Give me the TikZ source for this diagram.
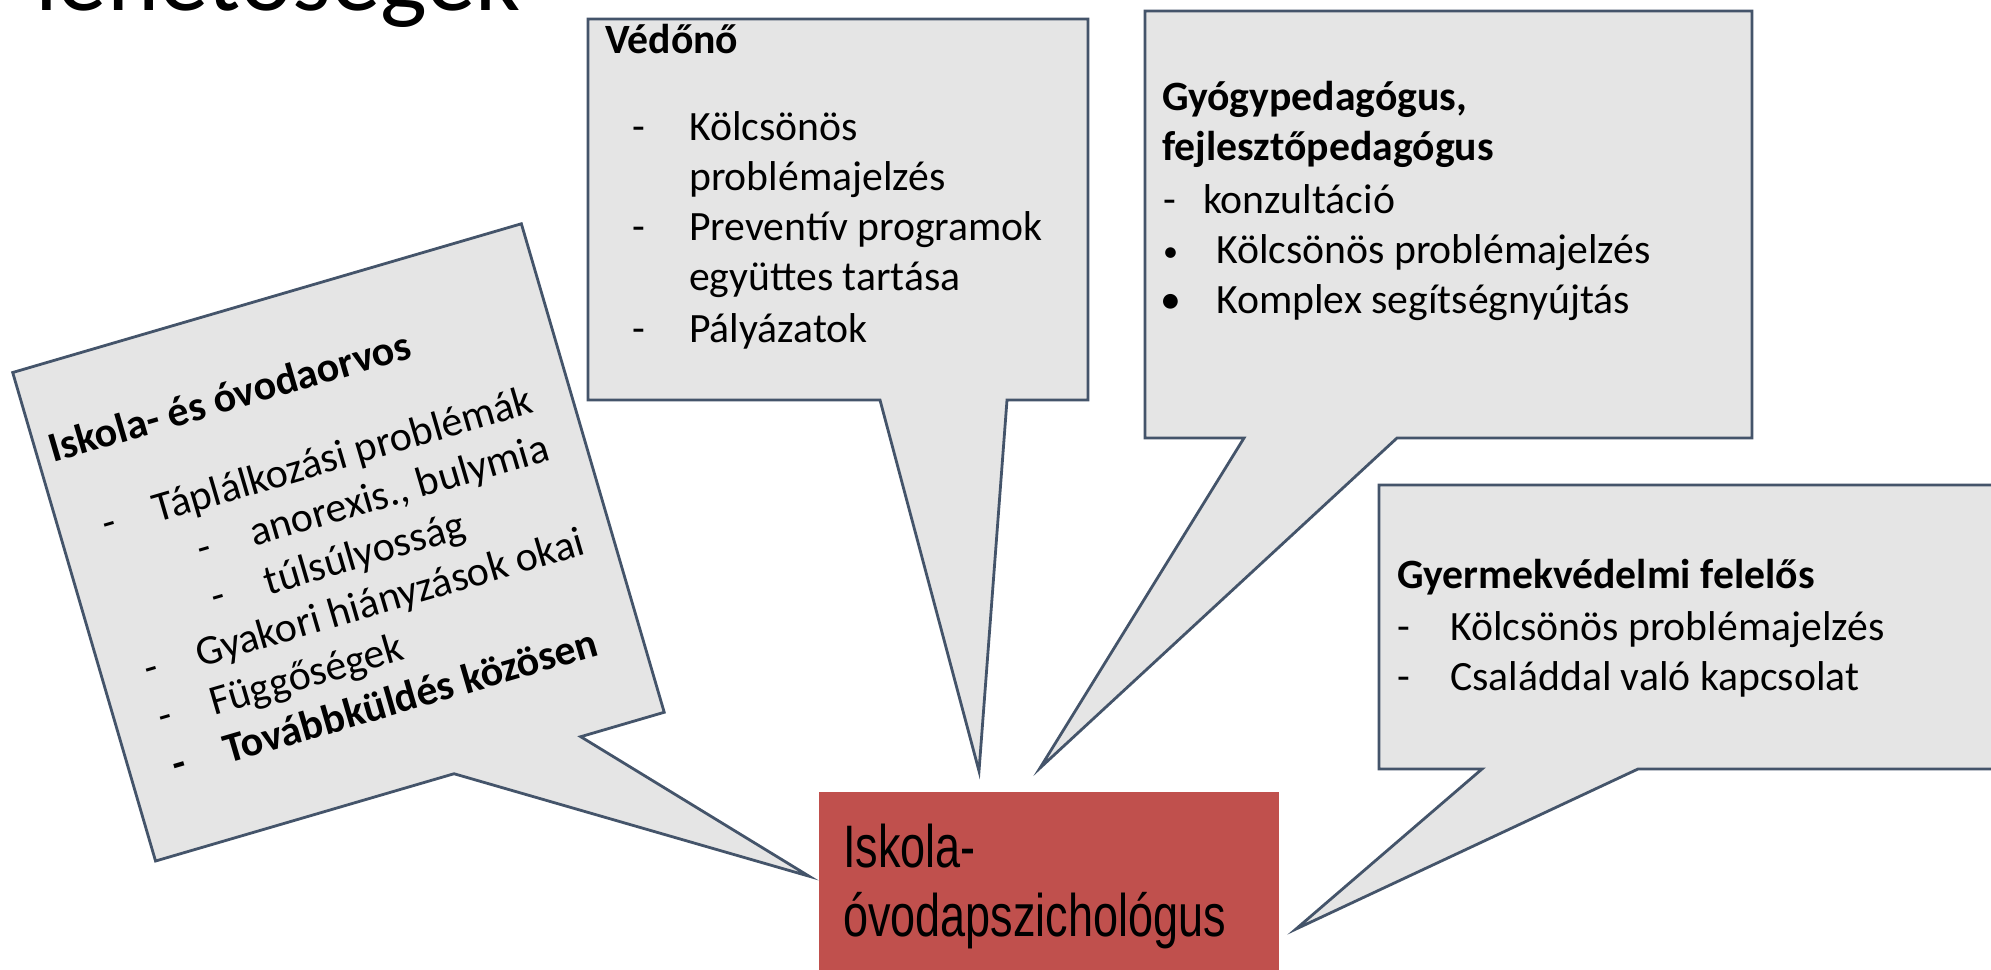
\documentclass[tikz,border=0pt]{standalone}
\usepackage{fontspec}
\setmainfont{Carlito}
\newfontfamily\narrowfont[FakeStretch=0.75]{Liberation Sans}
\definecolor{bubblefill}{HTML}{E5E5E5}
\definecolor{bubbleline}{HTML}{44546A}
\definecolor{psyred}{HTML}{C0504D}
\tikzset{
  bubble/.style={fill=bubblefill, draw=bubbleline, line width=2.8pt, line join=miter},
  txt/.style={anchor=base west, inner sep=0pt, font=\fontsize{41.7}{50}\selectfont},
  hd/.style={anchor=base west, inner sep=0pt, font=\fontsize{41.7}{50}\selectfont\bfseries},
  ltxt/.style={anchor=base west, inner sep=0pt, font=\fontsize{42}{50}\selectfont},
  lhd/.style={anchor=base west, inner sep=0pt, font=\fontsize{42}{50}\selectfont\bfseries},
  psytxt/.style={anchor=base west, inner sep=0pt, font=\fontsize{60}{70}\narrowfont},
}
\begin{document}
\begin{tikzpicture}[x=1pt,y=-1pt]
\clip (0,0) rectangle (1991,969);
\fill[white] (0,0) rectangle (1991,969);

% partial title
\node[anchor=base west, inner sep=0pt, font=\fontsize{99}{110}\selectfont] (title) at (35,10) {lehetőségek};

% central box
\node[fill=psyred, anchor=north west, minimum width=460pt, minimum height=200pt, inner sep=0pt] (psych) at (819,792) {};
\node[psytxt] (psych1) at (843,867) {Iskola-};
\node[psytxt] (psych2) at (843,936) {óvodapszichológus};

% Védőnő
\coordinate (vtip) at (979,771);
\draw[bubble] (588,19) -- (1088,19) -- (1088,400) -- (1007,400) -- (vtip) -- (880,400) -- (588,400) -- cycle;
\node[hd] (v0) at (605,53) {Védőnő};
\node[txt] (vd1) at (632,140) {-};
\node[txt] (v1) at (689,140) {Kölcsönös};
\node[txt] (v1b) at (689,190) {problémajelzés};
\node[txt] (vd2) at (632,240) {-};
\node[txt] (v2) at (689,240) {Preventív programok};
\node[txt] (v2b) at (689,290) {együttes tartása};
\node[txt] (vd3) at (632,342) {-};
\node[txt] (v3) at (689,342) {Pályázatok};

% Gyógypedagógus
\coordinate (gtip) at (1040,768);
\draw[bubble] (1145,11) -- (1752,11) -- (1752,438) -- (1397,438) -- (gtip) -- (1244,438) -- (1145,438) -- cycle;
\node[hd] (g0) at (1162,110) {Gyógypedagógus,};
\node[hd] (g0b) at (1162,160) {fejlesztőpedagógus};
\node[txt] (gd1) at (1163,213) {-};
\node[txt] (g1) at (1203,213) {konzultáció};
\node[anchor=base west, inner sep=0pt, font=\fontsize{30}{36}\selectfont] (gd2) at (1163,261) {•};
\node[txt] (g2) at (1216,263) {Kölcsönös problémajelzés};
\node[txt] (gd3) at (1160,313) {•};
\node[txt] (g3) at (1216,313) {Komplex segítségnyújtás};

% Gyermekvédelmi felelős
\coordinate (ctip) at (1296,929);
\draw[bubble] (1379,485) -- (2010,485) -- (2010,769) -- (1638,769) -- (ctip) -- (1482,769) -- (1379,769) -- cycle;
\node[hd] (c0) at (1397,588) {Gyermekvédelmi felelős};
\node[txt] (cd1) at (1397,640) {-};
\node[txt] (c1) at (1450,640) {Kölcsönös problémajelzés};
\node[txt] (cd2) at (1397,690) {-};
\node[txt] (c2) at (1450,690) {Családdal való kapcsolat};

% Iskola- és óvodaorvos (rotated)
\begin{scope}[shift={(12.7,372.5)}, rotate=16.3, transform shape]
  \coordinate (otip) at (623,707);
  \draw[bubble] (0,0) -- (530,0) -- (530,509) -- (443,509) -- (otip) -- (311,509) -- (0,509) -- cycle;
  \node[lhd] (o0) at (14,98) {Iskola- és óvodaorvos};
  \node[ltxt] (od1) at (43,185) {-};
  \node[ltxt] (o1) at (97,185) {Táplálkozási problémák};
  \node[ltxt] (od2) at (128,235) {-};
  \node[ltxt] (o2) at (183,235) {anorexis., bulymia};
  \node[ltxt] (od3) at (128,285.5) {-};
  \node[ltxt] (o3) at (183,285.5) {túlsúlyosság};
  \node[ltxt] (od4) at (43,335.5) {-};
  \node[ltxt] (o4) at (97,335.5) {Gyakori hiányzások okai};
  \node[ltxt] (od5) at (43,386) {-};
  \node[ltxt] (o5) at (97,386) {Függőségek};
  \node[lhd] (od6) at (43,436) {-};
  \node[lhd] (o6) at (97,436) {Továbbküldés közösen};
\end{scope}
\end{tikzpicture}
\end{document}
